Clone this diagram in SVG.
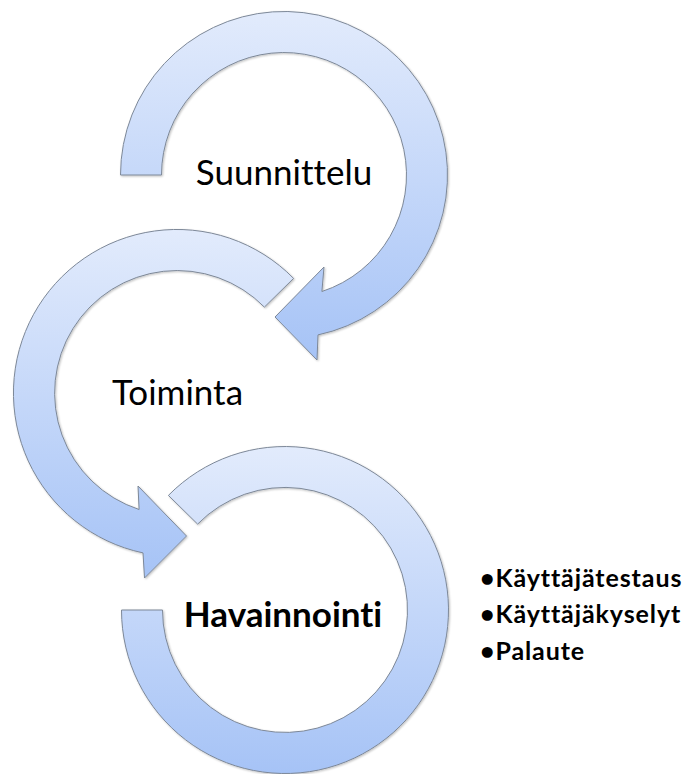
<svg xmlns="http://www.w3.org/2000/svg" width="685" height="774" viewBox="0 0 685 774">
<defs>
<linearGradient id="g" x1="0" y1="0" x2="0" y2="1">
<stop offset="0" stop-color="#e2ebfc"/>
<stop offset="1" stop-color="#a6c3f6"/>
</linearGradient>
<filter id="sh" x="-10%" y="-10%" width="120%" height="120%">
<feGaussianBlur in="SourceAlpha" stdDeviation="1"/>
<feOffset dx="0.5" dy="1" result="b"/>
<feComponentTransfer><feFuncA type="linear" slope="0.25"/></feComponentTransfer>
<feMerge><feMergeNode/><feMergeNode in="SourceGraphic"/></feMerge>
</filter>
</defs>
<style>
text{font-variant-ligatures:none;font-feature-settings:"liga" 0,"dlig" 0}
.arc{fill:url(#g);stroke:#7d8898;stroke-width:1;stroke-linejoin:miter;filter:url(#sh)}
.lbl{font-family:Lato,"Liberation Sans",sans-serif;font-size:35px;fill:#000;text-anchor:middle}
.b{font-weight:bold}
.bul{font-family:Lato,"Liberation Sans",sans-serif;font-size:25px;letter-spacing:0.9px;font-weight:bold;fill:#000}
</style>
<rect width="685" height="774" fill="#fff"/>
<g id="node-suunnittelu">
<path class="arc" d="M120.5 175 A163.5 163.5 0 1 1 318 334.9 L317 360 L275 317 L324 267 L321.9 291.5 A122.5 122.5 0 1 0 161.5 175 Z"/>
<text class="lbl" x="284" y="185">Suunnittelu</text>
</g>
<g id="node-toiminta">
<path class="arc" d="M293.6 278.4 A163.5 163.5 0 1 0 143 552.9 L144.5 578 L186.5 536 L138 486 L139.1 509.5 A122.5 122.5 0 1 1 264.4 307.1 Z"/>
<text class="lbl" x="177.5" y="405">Toiminta</text>
</g>
<g id="node-havainnointi">
<path class="arc" d="M168.4 495.4 A163.5 163.5 0 1 1 121.5 610 L162.5 610 A122.5 122.5 0 1 0 197.6 524.1 Z"/>
<text class="lbl b" x="283" y="627">Havainnointi</text>
</g>
<g id="node-list">
<text class="bul" x="480" y="587">•Käyttäjätestaus</text>
<text class="bul" x="480" y="623">•Käyttäjäkyselyt</text>
<text class="bul" x="480" y="660">•Palaute</text>
</g>
</svg>
